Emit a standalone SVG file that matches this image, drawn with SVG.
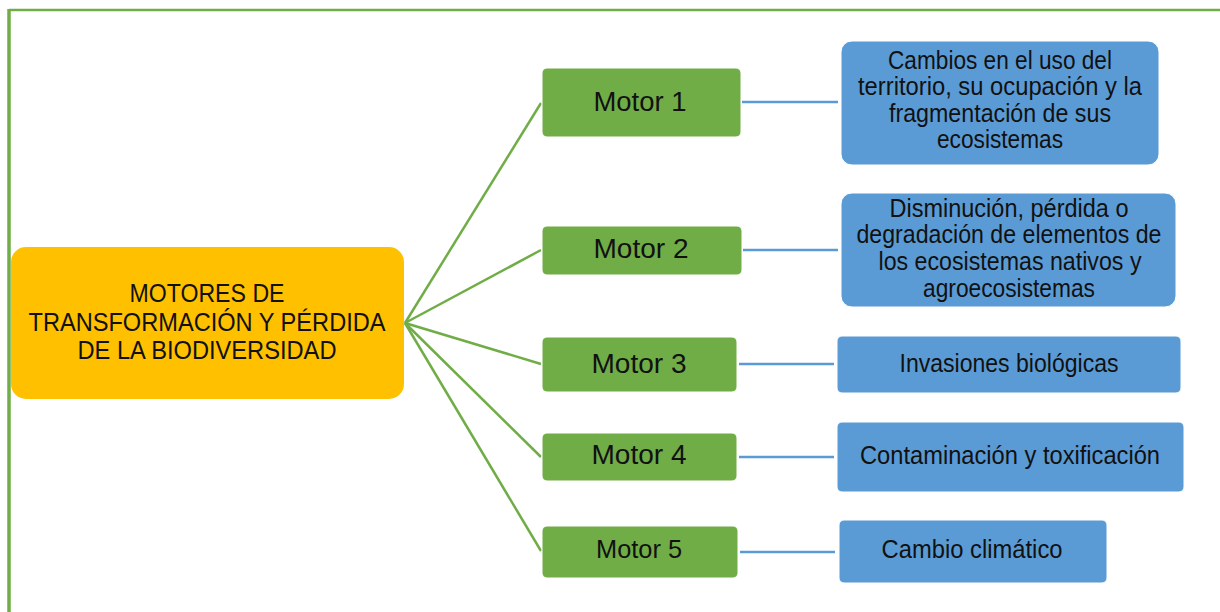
<svg xmlns="http://www.w3.org/2000/svg" width="1220" height="612" viewBox="0 0 1220 612">
<style>
.t{font-family:"Liberation Sans",Arial,sans-serif;fill:#111;text-anchor:middle}
.c{font-size:26px}
.m{font-size:27px}
.b{font-size:25px}
.green{fill:#70AD47;stroke:#fff;stroke-width:1}
.blue{fill:#5B9BD5;stroke:#fff;stroke-width:1}
.gl{stroke:#70AD47;stroke-width:2.5;fill:none}
.bl{stroke:#5B9BD5;stroke-width:2.5;fill:none}
</style>
<rect width="1220" height="612" fill="#fff"/>
<g id="frame">
<line x1="9" y1="10" x2="1220" y2="10" stroke="#70AD47" stroke-width="2.5"/>
<line x1="9" y1="9" x2="9" y2="612" stroke="#70AD47" stroke-width="3.5"/>
</g>
<g id="connectors">
<line class="gl" x1="405" y1="323" x2="541" y2="103"/>
<line class="gl" x1="405" y1="323" x2="541" y2="250"/>
<line class="gl" x1="405" y1="323" x2="541" y2="364"/>
<line class="gl" x1="405" y1="323" x2="541" y2="457"/>
<line class="gl" x1="405" y1="323" x2="541" y2="551"/>
<line class="bl" x1="742" y1="102" x2="838" y2="102"/>
<line class="bl" x1="743" y1="250" x2="838" y2="250"/>
<line class="bl" x1="739" y1="364" x2="834" y2="364"/>
<line class="bl" x1="739" y1="457" x2="834" y2="457"/>
<line class="bl" x1="740" y1="552" x2="835" y2="552"/>
</g>
<g id="center">
<rect x="11" y="247" width="393" height="152" rx="15" fill="#FFC000"/>
<text class="t c" x="207" y="302" textLength="155" lengthAdjust="spacingAndGlyphs">MOTORES DE</text>
<text class="t c" x="207" y="331" textLength="357" lengthAdjust="spacingAndGlyphs">TRANSFORMACIÓN Y PÉRDIDA</text>
<text class="t c" x="207" y="359" textLength="259" lengthAdjust="spacingAndGlyphs">DE LA BIODIVERSIDAD</text>
</g>
<g id="motor1">
<rect class="green" x="542" y="68" width="199" height="69" rx="5"/>
<text class="t m" x="640" y="111" textLength="93" lengthAdjust="spacingAndGlyphs">Motor 1</text>
</g>
<g id="motor2">
<rect class="green" x="542" y="226" width="200" height="49" rx="5"/>
<text class="t m" x="641" y="258" textLength="95" lengthAdjust="spacingAndGlyphs">Motor 2</text>
</g>
<g id="motor3">
<rect class="green" x="542" y="337" width="195" height="55" rx="5"/>
<text class="t m" x="639" y="373" textLength="95" lengthAdjust="spacingAndGlyphs">Motor 3</text>
</g>
<g id="motor4">
<rect class="green" x="542" y="433" width="195" height="48" rx="5"/>
<text class="t m" x="639" y="464" textLength="95" lengthAdjust="spacingAndGlyphs">Motor 4</text>
</g>
<g id="motor5">
<rect class="green" x="542" y="526" width="196" height="52" rx="5"/>
<text class="t b" x="639" y="558" textLength="86" lengthAdjust="spacingAndGlyphs">Motor 5</text>
</g>
<g id="desc1">
<rect class="blue" x="841" y="41" width="318" height="124" rx="11"/>
<text class="t b" x="1000" y="69" textLength="224" lengthAdjust="spacingAndGlyphs">Cambios en el uso del</text>
<text class="t b" x="1000" y="95" textLength="284" lengthAdjust="spacingAndGlyphs">territorio, su ocupación y la</text>
<text class="t b" x="1000" y="122" textLength="222" lengthAdjust="spacingAndGlyphs">fragmentación de sus</text>
<text class="t b" x="1000" y="148" textLength="126" lengthAdjust="spacingAndGlyphs">ecosistemas</text>
</g>
<g id="desc2">
<rect class="blue" x="841" y="193" width="335" height="114" rx="11"/>
<text class="t b" x="1009" y="217" textLength="239" lengthAdjust="spacingAndGlyphs">Disminución, pérdida o</text>
<text class="t b" x="1009" y="243" textLength="305" lengthAdjust="spacingAndGlyphs">degradación de elementos de</text>
<text class="t b" x="1010" y="270" textLength="263" lengthAdjust="spacingAndGlyphs">los ecosistemas nativos y</text>
<text class="t b" x="1009" y="297" textLength="172" lengthAdjust="spacingAndGlyphs">agroecosistemas</text>
</g>
<g id="desc3">
<rect class="blue" x="837" y="336" width="344" height="57" rx="5"/>
<text class="t b" x="1009" y="372" textLength="219" lengthAdjust="spacingAndGlyphs">Invasiones biológicas</text>
</g>
<g id="desc4">
<rect class="blue" x="837" y="422" width="347" height="70" rx="5"/>
<text class="t b" x="1010" y="464" textLength="300" lengthAdjust="spacingAndGlyphs">Contaminación y toxificación</text>
</g>
<g id="desc5">
<rect class="blue" x="839" y="520" width="268" height="63" rx="5"/>
<text class="t b" x="972" y="558" textLength="181" lengthAdjust="spacingAndGlyphs">Cambio climático</text>
</g>
</svg>
